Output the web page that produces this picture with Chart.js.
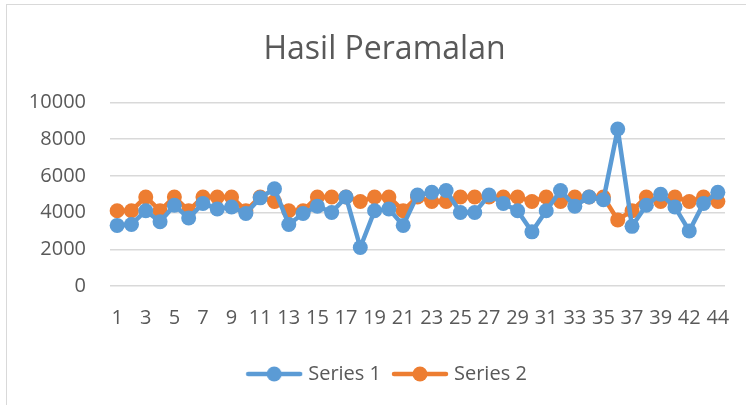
<!DOCTYPE html>
<html>
<head>
<meta charset="utf-8">
<script src="https://cdn.jsdelivr.net/npm/chart.js@4"></script>
<style>
	html, body { margin: 0; padding: 0; background: #fff; }
	#wrap { position: relative; width: 746px; height: 405px; }
	#frame { position: absolute; left: 6px; top: 4px; width: 760px; height: 420px; border: 1px solid #d9d9d9; box-sizing: border-box; pointer-events: none; }
</style>
</head>
<body>
<div id="wrap">
	<canvas id="forecast-chart" width="746" height="405"></canvas>
	<div id="frame"></div>
</div>
<script>
(() => {
	const categories = ['1', '2', '3', '4', '5', '6', '7', '8', '9', '10', '11', '12', '13', '14', '15', '16', '17', '18', '19', '20', '21', '22', '23', '24', '25', '26', '27', '28', '29', '30', '31', '32', '33', '34', '35', '36', '37', '38', '39', '40', '42', '43', '44'];
	const series1 = [3300, 3350, 4100, 3500, 4400, 3700, 4500, 4200, 4300, 3950, 4800, 5300, 3350, 3950, 4350, 4000, 4850, 2100, 4100, 4200, 3300, 4950, 5100, 5200, 4000, 4000, 4950, 4500, 4100, 2950, 4100, 5200, 4350, 4850, 4700, 8550, 3250, 4400, 5000, 4300, 3000, 4500, 5100];
	const series2 = [4100, 4100, 4850, 4100, 4850, 4100, 4850, 4850, 4850, 4100, 4850, 4600, 4100, 4100, 4850, 4850, 4850, 4600, 4850, 4850, 4100, 4850, 4600, 4600, 4850, 4850, 4850, 4850, 4850, 4600, 4850, 4600, 4850, 4850, 4850, 3600, 4100, 4850, 4600, 4850, 4600, 4850, 4600];
	const yTicks = [0, 2000, 4000, 6000, 8000, 10000];

	const blue = '#5b9bd5';
	const orange = '#ed7d31';
	const textColor = '#595959';
	const font = "'Open Sans', 'Noto Sans', sans-serif";

	// legend marker: a short line with a dot in the middle, like Excel
	const marker = (color) => {
		const c = document.createElement('canvas');
		c.width = 58;
		c.height = 16;
		const g = c.getContext('2d');
		g.strokeStyle = color;
		g.lineWidth = 4.5;
		g.lineCap = 'round';
		g.beginPath();
		g.moveTo(3, 8);
		g.lineTo(55, 8);
		g.stroke();
		g.fillStyle = color;
		g.beginPath();
		g.arc(29, 8, 7.5, 0, Math.PI * 2);
		g.fill();
		return c;
	};

	// excel centres title and legend on the whole frame, which runs past the right edge
	const shiftBoxes = {
		id: 'shiftBoxes',
		afterLayout: (chart) => {
			chart.legend.left += 21;
			chart.legend.right += 21;
			chart.titleBlock.left += 17;
			chart.titleBlock.right += 17;
		}
	};

	const canvas = document.getElementById('forecast-chart').getContext('2d');
	new Chart(canvas, {
		type: 'line',
		data: {
			labels: categories,
			datasets: [
				{
					label: 'Series 1',
					data: series1,
					borderColor: blue,
					backgroundColor: blue,
					borderWidth: 4.5,
					borderJoinStyle: 'round',
					pointRadius: 7.5,
					pointBorderWidth: 0,
					tension: 0,
					legendMarker: marker(blue)
				},
				{
					label: 'Series 2',
					data: series2,
					borderColor: orange,
					backgroundColor: orange,
					borderWidth: 4.5,
					borderJoinStyle: 'round',
					pointRadius: 7.5,
					pointBorderWidth: 0,
					tension: 0,
					legendMarker: marker(orange)
				}
			]
		},
		plugins: [shiftBoxes],
		options: {
			responsive: false,
			animation: false,
			layout: {
				padding: { left: 10, right: 21, top: 0, bottom: 11 }
			},
			plugins: {
				title: {
					display: true,
					text: 'Hasil Peramalan',
					color: textColor,
					font: { family: font, size: 32, weight: '400' },
					padding: { top: 31, bottom: 33 }
				},
				legend: {
					position: 'bottom',
					labels: {
						usePointStyle: true,
						pointStyleWidth: 48,
						color: textColor,
						font: { family: font, size: 20 },
						padding: 15,
						generateLabels: (chart) => chart.data.datasets.map((ds, i) => ({
							text: ds.label,
							fillStyle: ds.borderColor,
							strokeStyle: ds.borderColor,
							fontColor: textColor,
							pointStyle: ds.legendMarker,
							lineWidth: 0,
							hidden: false,
							datasetIndex: i
						}))
					}
				},
				tooltip: { enabled: false }
			},
			scales: {
				x: {
					offset: true,
					afterFit: (axis) => { axis.height += 7; },
					grid: { display: false },
					border: { display: false },
					ticks: {
						color: textColor,
						font: { family: font, size: 20 },
						autoSkip: false,
						maxRotation: 0,
						padding: 12,
						callback: (v, i) => (i % 2 === 0 ? categories[i] : '')
					}
				},
				y: {
					min: yTicks[0],
					max: yTicks[yTicks.length - 1],
					afterFit: (axis) => { axis.width = 100; },
					afterBuildTicks: (axis) => { axis.ticks = yTicks.map((v) => ({ value: v })); },
					grid: { color: '#d9d9d9', lineWidth: 1.5, drawTicks: false },
					border: { display: false },
					ticks: {
						color: textColor,
						font: { family: font, size: 20 },
						padding: 24,
						callback: (v) => String(v)
					}
				}
			}
		}
	});
})();
</script>
</body>
</html>
